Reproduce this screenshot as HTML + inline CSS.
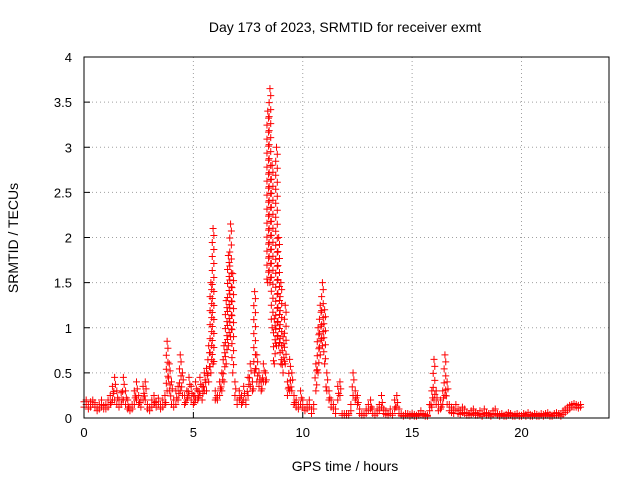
<!DOCTYPE html>
<html><head><meta charset="utf-8"><style>
body{margin:0;background:#fff;}
svg{display:block;font-family:"Liberation Sans",sans-serif;}
</style></head><body>
<svg id="chart" width="640" height="480" viewBox="0 0 640 480">
<text x="345" y="32" font-size="14" text-anchor="middle">Day 173 of 2023, SRMTID for receiver exmt</text>
<text x="345" y="471" font-size="14" text-anchor="middle">GPS time / hours</text>
<text transform="translate(18,238) rotate(-90)" font-size="14" text-anchor="middle">SRMTID / TECUs</text>
<g id="grid"></g>
<g id="axes"></g>
<g id="points"></g>
<rect x="84" y="57" width="525" height="361" fill="none" stroke="#000" stroke-width="1"/>
</svg>
<script>
const xTicks=[0,5,10,15,20];
const yTicks=[0,0.5,1,1.5,2,2.5,3,3.5,4];
const yTickLabels=["0","0.5","1","1.5","2","2.5","3","3.5","4"];
const startHour=0, stepHour=0.1;
const srmtid=[
0.18,0.2,0.15,0.18,0.2,0.17,0.12,0.15,0.2,0.14,
0.15,0.2,0.25,0.35,0.45,0.3,0.2,0.28,0.45,0.3,
0.2,0.12,0.15,0.3,0.4,0.25,0.2,0.35,0.4,0.15,
0.12,0.2,0.25,0.18,0.22,0.15,0.2,0.25,0.85,0.6,
0.4,0.2,0.3,0.35,0.7,0.5,0.25,0.3,0.45,0.35,
0.25,0.4,0.3,0.45,0.35,0.5,0.55,0.8,1.5,2.1,
0.3,0.25,0.4,0.5,0.8,1.3,1.8,2.15,1.6,0.4,
0.2,0.3,0.25,0.35,0.2,0.45,0.6,0.4,1.4,0.7,
0.5,0.4,0.6,0.5,3.4,3.65,2.8,1.1,3.0,2.0,
1.5,0.9,1.25,0.4,0.65,0.5,0.25,0.2,0.15,0.3,
0.2,0.1,0.15,0.2,0.1,0.15,0.6,1.0,1.25,1.5,
1.2,0.5,0.3,0.2,0.15,0.1,0.35,0.4,0.05,0.05,
0.05,0.05,0.15,0.5,0.3,0.25,0.1,0.05,0.05,0.1,
0.15,0.2,0.1,0.05,0.1,0.15,0.25,0.1,0.08,0.05,
0.1,0.05,0.2,0.25,0.1,0.05,0.03,0.05,0.05,0.04,
0.05,0.04,0.03,0.05,0.08,0.05,0.04,0.03,0.15,0.3,
0.65,0.3,0.15,0.2,0.3,0.7,0.4,0.15,0.12,0.1,
0.15,0.1,0.08,0.12,0.1,0.06,0.05,0.08,0.1,0.06,
0.05,0.08,0.04,0.1,0.06,0.05,0.04,0.08,0.1,0.05,
0.04,0.05,0.03,0.04,0.06,0.05,0.03,0.04,0.05,0.03,
0.03,0.05,0.04,0.06,0.04,0.03,0.05,0.04,0.03,0.05,
0.04,0.05,0.06,0.04,0.03,0.05,0.06,0.05,0.04,0.08,
0.1,0.12,0.14,0.15,0.16,0.15,0.14,0.15];
const srmtidLow=[
0.12,0.15,0.1,0.12,0.15,0.12,0.08,0.1,0.12,0.1,
0.1,0.12,0.15,0.2,0.2,0.15,0.12,0.15,0.2,0.15,
0.1,0.08,0.1,0.15,0.2,0.15,0.12,0.2,0.2,0.1,
0.08,0.12,0.15,0.12,0.15,0.1,0.12,0.15,0.3,0.3,
0.15,0.12,0.15,0.2,0.3,0.25,0.15,0.2,0.25,0.2,
0.15,0.2,0.2,0.25,0.2,0.3,0.3,0.4,0.5,0.6,
0.2,0.2,0.25,0.3,0.4,0.6,0.8,0.9,0.5,0.25,
0.15,0.2,0.15,0.2,0.15,0.25,0.35,0.3,0.5,0.4,
0.35,0.3,0.4,0.4,1.5,1.5,1.0,0.6,0.8,0.8,
0.6,0.5,0.6,0.25,0.3,0.3,0.15,0.12,0.1,0.15,
0.12,0.08,0.1,0.12,0.05,0.1,0.3,0.5,0.7,0.8,
0.6,0.3,0.2,0.12,0.1,0.05,0.2,0.25,0.03,0.03,
0.03,0.03,0.08,0.25,0.2,0.15,0.05,0.03,0.03,0.05,
0.08,0.1,0.05,0.03,0.05,0.08,0.12,0.05,0.04,0.03,
0.05,0.03,0.1,0.12,0.05,0.03,0.02,0.03,0.03,0.02,
0.03,0.02,0.02,0.03,0.04,0.03,0.02,0.02,0.08,0.12,
0.2,0.15,0.08,0.1,0.15,0.25,0.15,0.08,0.06,0.05,
0.08,0.05,0.04,0.06,0.05,0.03,0.03,0.04,0.05,0.03,
0.03,0.04,0.02,0.05,0.03,0.03,0.02,0.04,0.05,0.03,
0.02,0.03,0.02,0.02,0.03,0.03,0.02,0.02,0.03,0.02,
0.02,0.03,0.02,0.03,0.02,0.02,0.03,0.02,0.02,0.03,
0.02,0.03,0.03,0.02,0.02,0.03,0.03,0.03,0.02,0.04,
0.06,0.08,0.1,0.12,0.12,0.12,0.11,0.12];
const NS="http://www.w3.org/2000/svg";
const X0=84,X1=609,Y0=418,Y1=57;
function sx(v){return X0+(v/24)*(X1-X0);}
function sy(v){return Y0-(v/4)*(Y0-Y1);}
const grid=document.getElementById('grid'),axes=document.getElementById('axes'),pts=document.getElementById('points');
function mk(t,a,p){const e=document.createElementNS(NS,t);for(const k in a)e.setAttribute(k,a[k]);p.appendChild(e);return e;}
xTicks.forEach(v=>{
 const x=sx(v);
 if(v>0){const g=mk('line',{x1:x,x2:x,y1:Y0,y2:Y1,stroke:'#a0a0a0','stroke-dasharray':'1,3'},grid);
 
 }
 const t=mk('line',{x1:x,x2:x,y1:Y0,y2:Y0-6,stroke:'#000'},axes);
 
 
 const l=mk('text',{x:x,y:Y0+19,'font-size':13,'text-anchor':'middle'},axes);l.textContent=v;
 
 
});
yTicks.forEach((v,i)=>{
 const y=sy(v);
 if(v>0&&v<4){const g=mk('line',{x1:X0,x2:X1,y1:y,y2:y,stroke:'#a0a0a0','stroke-dasharray':'1,3'},grid);
 
 }
 const t=mk('line',{x1:X0,x2:X0+6,y1:y,y2:y,stroke:'#000'},axes);
 
 
 const l=mk('text',{x:X0-12,y:y+5,'font-size':13,'text-anchor':'end'},axes);l.textContent=yTickLabels[i];
 
 
});
function plus(x,y){return `M${x-3.5},${y}H${x+3.5}M${x},${y-3.5}V${y+3.5}`;}
srmtid.forEach((v,i)=>{
 const lo=Math.min(srmtidLow[i],v);
 const x=sx(startHour+i*stepHour),yTop=sy(v),yBot=sy(lo);
 let d=plus(x,yTop);
 let k=0;
 for(let y=yTop+7;y<yBot-2;y+=7){k++;d+=plus(x+(k%2?0.8:-0.8),y);}
 if(yBot>yTop)d+=plus(x,yBot);
 const p=mk('path',{d:d,stroke:'#ff0000','stroke-width':1,fill:'none'},pts);
 
 
});
</script>
</body></html>
